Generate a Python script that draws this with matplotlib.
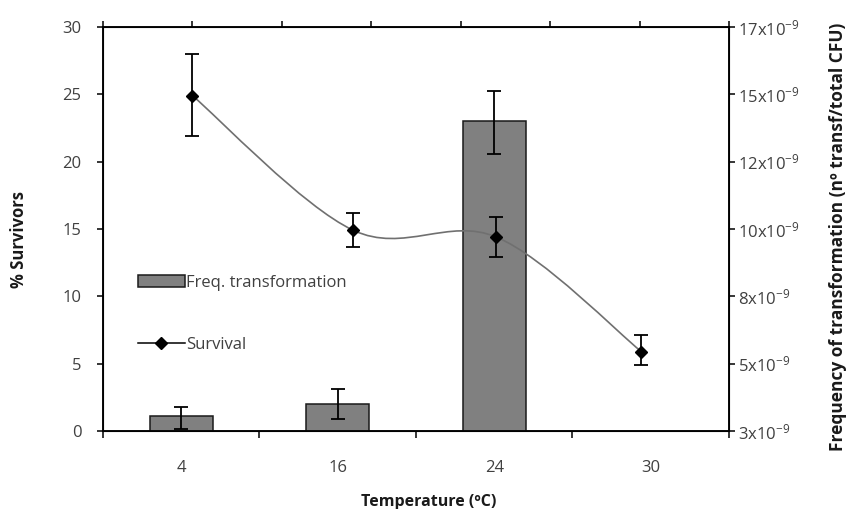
import numpy as np
import matplotlib
matplotlib.use("Agg")
import matplotlib.pyplot as plt
from matplotlib.path import Path
from matplotlib.patches import PathPatch
from matplotlib.lines import Line2D
from matplotlib.patches import Patch

plt.rcParams['font.family'] = ['Open Sans', 'DejaVu Sans']
plt.rcParams['mathtext.default'] = 'regular'

# data
temps = ['4', '16', '24', '30']
# frequency of transformation, units of 1e-9 (right axis)
freq = [3.07, 3.50, 14.0]
freq_err_lo = [0.50, 0.55, 1.22]
freq_err_hi = [0.33, 0.55, 1.13]
# survival (% survivors, left axis), placed on the secondary top axis
surv_x = [5.0, 14.0, 22.0, 30.1]
surv = [24.9, 14.9, 14.4, 5.9]
surv_err_lo = [3.0, 1.2, 1.5, 1.0]
surv_err_hi = [3.1, 1.3, 1.5, 1.2]

right_ticks = [2.5, 5, 7.5, 10, 12.5, 15, 17.5]
right_labels = ['3x10$^{-9}$', '5x10$^{-9}$', '8x10$^{-9}$', '10x10$^{-9}$',
                '12x10$^{-9}$', '15x10$^{-9}$', '17x10$^{-9}$']

tick_color = '#404040'
label_color = '#1a1a1a'

fig = plt.figure(figsize=(8.54, 5.09), dpi=100)
ax = fig.add_axes([0.1206, 0.1532, 0.8536 - 0.1206, 0.947 - 0.1532])

# left axis: % survivors
ax.set_ylim(0, 30)
ax.set_yticks([0, 5, 10, 15, 20, 25, 30])
ax.set_xlim(-0.5, 3.5)
ax.set_xticks(range(4))
ax.set_xticklabels(temps)
ax.set_xticks(np.arange(-0.5, 4.0, 1.0), minor=True)
ax.tick_params(axis='x', which='major', length=0, pad=21, labelsize=12, colors=tick_color)
ax.tick_params(axis='x', which='minor', length=5, width=1.1, direction='out', color='black')
ax.tick_params(axis='y', length=4.5, width=1.1, direction='out', pad=11,
               labelsize=12, colors=tick_color)
ax.tick_params(axis='y', color='black')
ax.set_ylabel('% Survivors', fontsize=12, fontweight='bold', color=label_color)
ax.set_xlabel('Temperature (ºC)', fontsize=11.5, fontweight='bold', color=label_color)
ax.yaxis.set_label_coords(-0.12, 0.475)
ax.xaxis.set_label_coords(0.52, -0.157)
for s in ax.spines.values():
    s.set_linewidth(1.1)

# right axis: transformation frequency (bars)
axr = ax.twinx()
axr.set_ylim(right_ticks[0], right_ticks[-1])
axr.set_yticks(right_ticks)
axr.set_yticklabels(right_labels)
axr.tick_params(axis='y', length=4.5, width=1.1, direction='out', pad=2,
                labelsize=12, labelcolor=tick_color, color='black')
axr.set_ylabel('Frequency of transformation (nº transf/total CFU)', fontsize=12.5,
               fontweight='bold', color=label_color,
               family=['Liberation Sans Narrow', 'Open Sans'])
axr.yaxis.set_label_coords(1.16, 0.48)
x = np.arange(len(freq))
axr.bar(x, np.array(freq) - right_ticks[0], bottom=right_ticks[0], width=0.4,
        color='#808080', edgecolor='#1a1a1a', linewidth=1.1, zorder=2)
axr.errorbar(x, freq, yerr=[freq_err_lo, freq_err_hi], fmt='none', ecolor='black',
             elinewidth=1.3, capsize=5, capthick=1.3, zorder=3)
for s in axr.spines.values():
    s.set_linewidth(1.1)

# top axis: survival line
axt = ax.twiny()
axt.set_xlim(0, 35)
axt.set_xticks(np.arange(0, 36, 5))
axt.set_xticklabels([])
axt.tick_params(axis='x', length=4.5, width=1.1, direction='out', color='black')
axt.set_ylim(0, 30)

# smoothed line (Catmull-Rom style Bezier like the spreadsheet's smoothing)
pts = np.column_stack([surv_x, surv])
verts = [pts[0]]
codes = [Path.MOVETO]
n = len(pts)
for i in range(n - 1):
    p0 = pts[i - 1] if i > 0 else pts[i]
    p1 = pts[i]
    p2 = pts[i + 1]
    p3 = pts[i + 2] if i + 2 < n else pts[i + 1]
    c1 = p1 + (p2 - p0) / 6.0
    c2 = p2 - (p3 - p1) / 6.0
    verts += [c1, c2, p2]
    codes += [Path.CURVE4] * 3
axt.add_patch(PathPatch(Path(verts, codes), facecolor='none', edgecolor='#707070',
                        linewidth=1.2, zorder=4))
axt.errorbar(surv_x, surv, yerr=[surv_err_lo, surv_err_hi], fmt='D', color='black',
             markersize=6, ecolor='black', elinewidth=1.3, capsize=5, capthick=1.3, zorder=5)

# legend
handles = [Patch(facecolor='#808080', edgecolor='#1a1a1a', linewidth=1.1),
           Line2D([], [], color='black', linewidth=1.1, marker='D', markersize=6)]
axt.legend(handles, ['Freq. transformation', 'Survival'], loc='center left',
           bbox_to_anchor=(0.032, 0.29), frameon=False, fontsize=12,
           labelspacing=2.8, handlelength=2.8, handletextpad=0.1,
           labelcolor=tick_color)

fig.savefig('out.png', dpi=100)
